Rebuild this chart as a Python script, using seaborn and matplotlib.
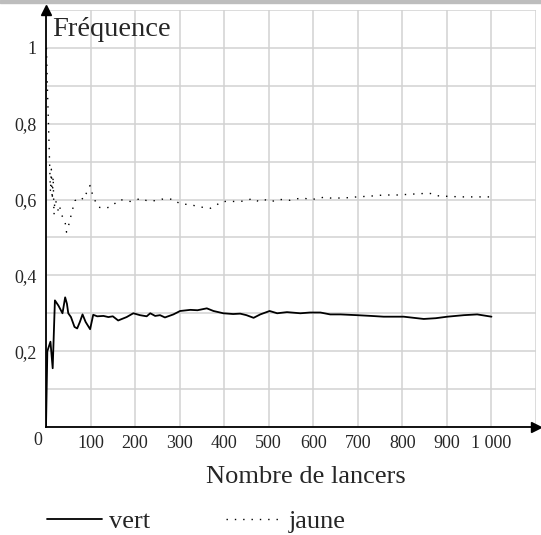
import numpy as np
import pandas as pd
import matplotlib.pyplot as plt
import seaborn as sns

# lancers (x) et fréquences
vert_x = [0, 3, 10, 15, 20, 28, 37, 43, 47, 50, 56, 64, 70, 76, 82, 89, 99, 106, 115,
          129, 140, 150, 162, 181, 196, 211, 226, 234, 245, 256, 267, 286, 301, 324,
          340, 361, 376, 398, 420, 436, 450, 466, 481, 502, 519, 541, 571, 593, 616,
          638, 661, 698, 730, 758, 803, 848, 875, 901, 938, 968, 1000]
vert_y = [0, 0.20, 0.225, 0.155, 0.334, 0.32, 0.30, 0.342, 0.325, 0.30, 0.29, 0.264,
          0.26, 0.277, 0.297, 0.277, 0.258, 0.296, 0.292, 0.293, 0.29, 0.292, 0.281,
          0.29, 0.30, 0.295, 0.292, 0.30, 0.293, 0.295, 0.289, 0.297, 0.306, 0.309,
          0.308, 0.313, 0.306, 0.30, 0.298, 0.299, 0.295, 0.288, 0.297, 0.306, 0.300,
          0.303, 0.30, 0.302, 0.302, 0.297, 0.297, 0.295, 0.293, 0.291, 0.291, 0.285,
          0.287, 0.291, 0.295, 0.297, 0.291]

jaune_x = [1, 3, 6, 8, 10, 12, 14, 16, 18, 20, 24, 28, 31, 35, 39, 43, 46, 52, 58, 65,
           76, 85, 93, 99, 106, 118, 129, 144, 155, 166, 189, 204, 215, 226, 245, 260,
           286, 300, 327, 342, 369, 382, 395, 407, 436, 449, 464, 477, 490, 506, 518,
           533, 548, 563, 578, 593, 608, 623, 638, 668, 698, 728, 758, 788, 818, 848,
           863, 878, 908, 938, 983, 1000]
jaune_y = [1.0, 0.9, 0.78, 0.7, 0.62, 0.68, 0.6, 0.66, 0.56, 0.6, 0.59, 0.567, 0.58,
           0.558, 0.553, 0.54, 0.514, 0.537, 0.567, 0.597, 0.606, 0.6, 0.624, 0.637,
           0.606, 0.58, 0.577, 0.58, 0.59, 0.60, 0.595, 0.60, 0.603, 0.597, 0.597,
           0.601, 0.601, 0.589, 0.586, 0.581, 0.577, 0.585, 0.595, 0.595, 0.595, 0.597,
           0.603, 0.595, 0.60, 0.594, 0.60, 0.60, 0.598, 0.602, 0.604, 0.60, 0.602,
           0.606, 0.604, 0.604, 0.607, 0.609, 0.612, 0.612, 0.614, 0.616, 0.616, 0.61,
           0.608, 0.607, 0.607, 0.607]

x_ticks = [100, 200, 300, 400, 500, 600, 700, 800, 900, 1000]
x_labels = ['100', '200', '300', '400', '500', '600', '700', '800', '900', '1 000']
y_ticks = [0.2, 0.4, 0.6, 0.8, 1.0]
y_labels = ['0,2', '0,4', '0,6', '0,8', '1']

sns.set_style('white')
plt.rcParams['font.family'] = ['Liberation Serif', 'DejaVu Serif']

fig = plt.figure(figsize=(5.41, 5.35), dpi=100)
ax = fig.add_axes([46 / 541, 1 - 427 / 535, 490 / 541, 417 / 535])

sns.lineplot(x=vert_x, y=vert_y, ax=ax, color='black', lw=1.3, label='vert')
sns.lineplot(x=jaune_x, y=jaune_y, ax=ax, color='black', lw=1.0,
             linestyle=(0, (1, 5)), label='jaune')

ax.set_xlim(0, 1100)
ax.set_ylim(0, 1.1)

ax.xaxis.remove_overlapping_locs = False
ax.yaxis.remove_overlapping_locs = False
ax.set_xticks(x_ticks)
ax.set_xticklabels(x_labels, fontsize=13)
ax.set_yticks(y_ticks)
ax.set_yticklabels(y_labels, fontsize=13)
ax.set_xticks(np.arange(0, 1101, 100), minor=True)
ax.set_yticks(np.arange(0, 1.11, 0.1), minor=True)
ax.grid(which='minor', color='#d2d2d2', lw=1.1)
ax.grid(which='major', visible=False)
ax.set_axisbelow(True)
ax.tick_params(which='minor', length=0)
ax.tick_params(axis='x', which='major', direction='inout', length=6, width=1, pad=3)
ax.tick_params(axis='y', which='major', direction='inout', length=4, width=1, pad=5)

for s in ['top', 'right']:
    ax.spines[s].set_visible(False)
for s in ['left', 'bottom']:
    ax.spines[s].set_color('black')
    ax.spines[s].set_linewidth(1.3)

# flèches au bout des axes
ax.plot(1, 0, '>k', ms=7, transform=ax.get_yaxis_transform(), clip_on=False)
ax.plot(0, 1, '^k', ms=7, transform=ax.get_xaxis_transform(), clip_on=False)

ax.text(-8, -0.012, '0', fontsize=13, ha='right', va='top',
        transform=ax.transData)
ax.text(52 / 541, 1 - 30 / 535, 'Fréquence', fontsize=20.5, ha='left', va='center',
        transform=fig.transFigure)
ax.set_xlabel('')
ax.set_ylabel('')
fig.text(306 / 541, 1 - 477 / 535, 'Nombre de lancers', fontsize=19,
         ha='center', va='center')

handles, labels = ax.get_legend_handles_labels()
ax.get_legend().remove()
fig.legend(handles, labels, loc='center', bbox_to_anchor=(196 / 541, 1 - 521 / 535),
           ncol=2, frameon=False, fontsize=19, handlelength=2.1,
           handletextpad=0.25, columnspacing=2.9)

fig.patches.append(plt.Rectangle((0, 1 - 3 / 535), 1, 3 / 535, color='#bdbdbd',
                                 transform=fig.transFigure, figure=fig))

fig.savefig('out.png', dpi=100)
